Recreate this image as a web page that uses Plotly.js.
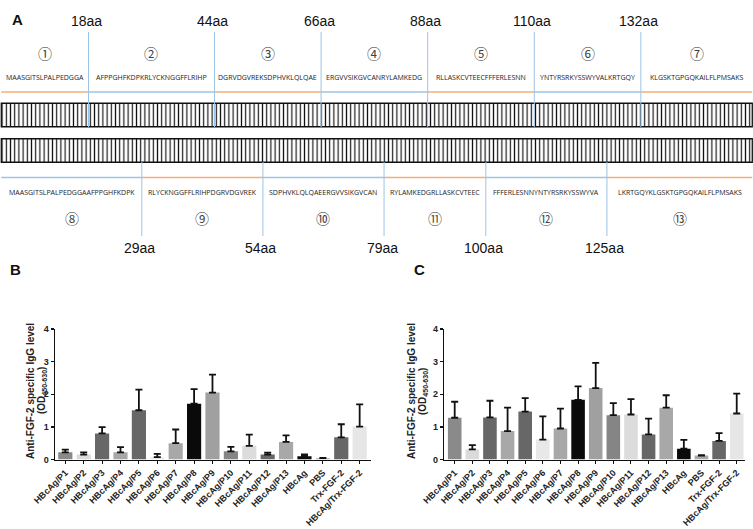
<!DOCTYPE html>
<html><head><meta charset="utf-8">
<script src="https://cdn.plot.ly/plotly-3.0.1.min.js"></script>
<style>html,body{margin:0;padding:0;background:#fff}#chart{width:753px;height:529px}</style>
</head><body><div id="chart"></div>
<script>
// ---------- Panel A data ----------
const proteinLength = 155;
const topBoundaries = [0, 18, 44, 66, 88, 110, 132, 155];
const bottomBoundaries = [0, 29, 54, 79, 100, 125, 155];
const topSequences = ['MAASGITSLPALPEDGGA', 'AFPPGHFKDPKRLYCKNGGFFLRIHP', 'DGRVDGVREKSDPHVKLQLQAE',
  'ERGVVSIKGVCANRYLAMKEDG', 'RLLASKCVTEECFFFERLESNN', 'YNTYRSRKYSSWYVALKRTGQY', 'KLGSKTGPGQKAILFLPMSAKS'];
const bottomSequences = ['MAASGITSLPALPEDGGAAFPPGHFKDPK', 'RLYCKNGGFFLRIHPDGRVDGVREK', 'SDPHVKLQLQAEERGVVSIKGVCAN',
  'RYLAMKEDGRLLASKCVTEEC', 'FFFERLESNNYNTYRSRKYSSWYVA', 'LKRTGQYKLGSKTGPGQKAILFLPMSAKS'];
const topNumbers = ['①', '②', '③', '④', '⑤', '⑥', '⑦'];
const bottomNumbers = ['⑧', '⑨', '⑩', '⑪', '⑫', '⑬'];

// ---------- Panels B / C data ----------
const categories = ['HBcAg/P1', 'HBcAg/P2', 'HBcAg/P3', 'HBcAg/P4', 'HBcAg/P5', 'HBcAg/P6', 'HBcAg/P7',
  'HBcAg/P8', 'HBcAg/P9', 'HBcAg/P10', 'HBcAg/P11', 'HBcAg/P12', 'HBcAg/P13', 'HBcAg', 'PBS',
  'Trx-FGF-2', 'HBcAg/Trx-FGF-2'];
const meanB = [0.22, 0.15, 0.80, 0.22, 1.51, 0.07, 0.50, 1.71, 2.05, 0.25, 0.42, 0.15, 0.54, 0.10, 0.04, 0.68, 1.01];
const errB  = [0.08, 0.07, 0.19, 0.16, 0.63, 0.10, 0.42, 0.45, 0.55, 0.14, 0.34, 0.06, 0.20, 0.06, 0.01, 0.40, 0.68];
const meanC = [1.28, 0.31, 1.29, 0.87, 1.47, 0.61, 0.95, 1.83, 2.19, 1.36, 1.38, 0.77, 1.59, 0.33, 0.12, 0.57, 1.41];
const errC  = [0.49, 0.13, 0.51, 0.72, 0.41, 0.71, 0.61, 0.41, 0.77, 0.37, 0.47, 0.48, 0.38, 0.27, 0.01, 0.24, 0.61];
const yTitleLine1 = 'Anti-FGF-2 specific IgG level';
const yTitleLine2 = '(OD<sub>450-630</sub>)';

// ---------- styles ----------
const barColors = ['#8a8a8a', '#dadada', '#676767', '#a8a8a8', '#676767', '#e8e8e8', '#a8a8a8', '#0a0a0a',
  '#a0a0a0', '#858585', '#dcdcdc', '#676767', '#a8a8a8', '#0a0a0a', '#a8a8a8', '#676767', '#e6e6e6'];
const ORANGE = '#f2ae78', BLUE = '#9dc3e6';
const W = 753, H = 529;
const px = v => v / W, py = v => 1 - v / H;

const traces = [];
const annotations = [];

// Striped protein bars
[115, 150.5].forEach(yc => {
  traces.push({
    type: 'bar', orientation: 'h', xaxis: 'x3', yaxis: 'y3',
    y: [yc], x: [proteinLength], base: [0], width: [23.5],
    marker: { color: '#fff', line: { color: '#111', width: 1.3 },
      pattern: { shape: '|', size: 4.2, solidity: 0.28, fgcolor: '#111', bgcolor: '#fff' } },
    hoverinfo: 'skip', showlegend: false
  });
});

function segLines(bounds, y, startColorOrange) {
  const o = { x: [], y: [] }, b = { x: [], y: [] };
  for (let i = 0; i < bounds.length - 1; i++) {
    const isOrange = (i % 2 === 0) === startColorOrange;
    const t = isOrange ? o : b;
    t.x.push(bounds[i], bounds[i + 1], null);
    t.y.push(y, y, null);
  }
  [[o, ORANGE], [b, BLUE]].forEach(([t, c]) => traces.push({
    type: 'scatter', mode: 'lines', xaxis: 'x3', yaxis: 'y3', x: t.x, y: t.y,
    line: { color: c, width: 1.6 }, hoverinfo: 'skip', showlegend: false
  }));
}
segLines(topBoundaries, 92, true);
segLines(bottomBoundaries, 177.5, false);

function vLines(bounds, y0, y1) {
  const x = [], y = [];
  bounds.slice(1, -1).forEach(v => { x.push(v, v, null); y.push(y0, y1, null); });
  traces.push({ type: 'scatter', mode: 'lines', xaxis: 'x3', yaxis: 'y3', x, y,
    line: { color: BLUE, width: 1 }, hoverinfo: 'skip', showlegend: false });
}
vLines(topBoundaries, 32, 127);
vLines(bottomBoundaries, 162, 236);

function segText(bounds, seqs, nums, yAA, yNum, ySeq) {
  bounds.slice(1, -1).forEach(v => annotations.push({
    xref: 'x3', yref: 'y3', x: v, y: yAA, xshift: -2, text: v + 'aa', showarrow: false,
    font: { family: 'Liberation Sans, Arial, sans-serif', size: 14, color: '#111' }
  }));
  for (let i = 0; i < bounds.length - 1; i++) {
    const mid = (bounds[i] + bounds[i + 1]) / 2;
    annotations.push({ xref: 'x3', yref: 'y3', x: mid, y: yNum, text: nums[i], showarrow: false,
      font: { family: 'Noto Sans CJK SC, sans-serif', size: 14, color: '#444' } });
    annotations.push({ xref: 'x3', yref: 'y3', x: mid, y: ySeq, text: seqs[i], showarrow: false,
      font: { family: 'Open Sans, sans-serif', size: 7, color: '#222' } });
  }
}
segText(topBoundaries, topSequences, topNumbers, 21, 52.5, 77);
segText(bottomBoundaries, bottomSequences, bottomNumbers, 248, 218, 192);

// Bar charts
[[meanB, errB, 'x', 'y'], [meanC, errC, 'x2', 'y2']].forEach(([m, e, xa, ya]) => {
  traces.push({
    type: 'bar', x: categories, y: m, xaxis: xa, yaxis: ya, width: 0.77,
    marker: { color: barColors, line: { width: 0 } },
    error_y: { type: 'data', array: e, arrayminus: e.map(() => 0), symmetric: false,
      color: '#111', thickness: 1.8, width: 3.5 },
    hoverinfo: 'skip', showlegend: false
  });
});

const xTickFont = { family: 'Liberation Sans, Arial, sans-serif', size: 9, color: '#222', weight: 'bold' };
const yTickFont = { family: 'Liberation Sans, Arial, sans-serif', size: 9, color: '#222', weight: 'bold' };
function xAx(d0, d1, r, anchor) {
  return { domain: [px(d0), px(d1)], range: r, anchor, type: 'category', tickangle: -45,
    showline: true, linecolor: '#111', linewidth: 1.5, ticks: 'outside', ticklen: 3, tickwidth: 1,
    tickcolor: '#111', tickfont: xTickFont, showgrid: false, zeroline: false, fixedrange: true };
}
function yAx(anchor) {
  return { domain: [py(459.5), py(329)], range: [0, 4], tickvals: [0, 1, 2, 3, 4], ticktext: ['0', '1', '2', '3', '4'],
    anchor, showline: true, linecolor: '#111', linewidth: 1.5, ticks: 'outside', ticklen: 3, tickwidth: 1.5,
    tickcolor: '#111', tickfont: yTickFont, showgrid: false, zeroline: false, fixedrange: true };
}

// y titles: two rotated single-line annotations per panel
const titleFont = { family: 'Liberation Sans, Arial, sans-serif', size: 10, color: '#222', weight: 'bold' };
[[30, 42, 391], [411, 423, 391]].forEach(([x1, x2, y]) => {
  [[x1, yTitleLine1], [x2, yTitleLine2]].forEach(([x, t]) => annotations.push({
    xref: 'paper', yref: 'paper', x: px(x), y: py(y), xanchor: 'center', yanchor: 'middle',
    textangle: -90, showarrow: false, text: t, bgcolor: 'rgba(0,0,0,0)', font: titleFont
  }));
});

// Panel letters
[['A', 10, 9.5], ['B', 8, 269], ['C', 420, 269]].forEach(([t, x, y]) => annotations.push({
  xref: 'paper', yref: 'paper', x: px(x), y: py(y), text: t, showarrow: false,
  font: { family: 'Liberation Sans, Arial, sans-serif', size: 15, color: '#111', weight: 'bold' }
}));

const layout = {
  width: W, height: H, autosize: false,
  margin: { l: 0, r: 0, t: 0, b: 0, pad: 0 },
  paper_bgcolor: '#fff', plot_bgcolor: 'rgba(0,0,0,0)',
  showlegend: false, barmode: 'overlay',
  xaxis: xAx(55, 370.7, [-0.56, 16.6], 'y'),
  yaxis: yAx('x'),
  xaxis2: xAx(444.3, 745, [-0.59, 16.47], 'y2'),
  yaxis2: yAx('x2'),
  xaxis3: { domain: [0, 1], range: [-0.268, 155.15], anchor: 'y3', visible: false, fixedrange: true },
  yaxis3: { domain: [py(265), 1], range: [265, 0], anchor: 'x3', visible: false, fixedrange: true },
  annotations
};

Plotly.newPlot('chart', traces, layout, { staticPlot: true, displayModeBar: false });
</script></body></html>
